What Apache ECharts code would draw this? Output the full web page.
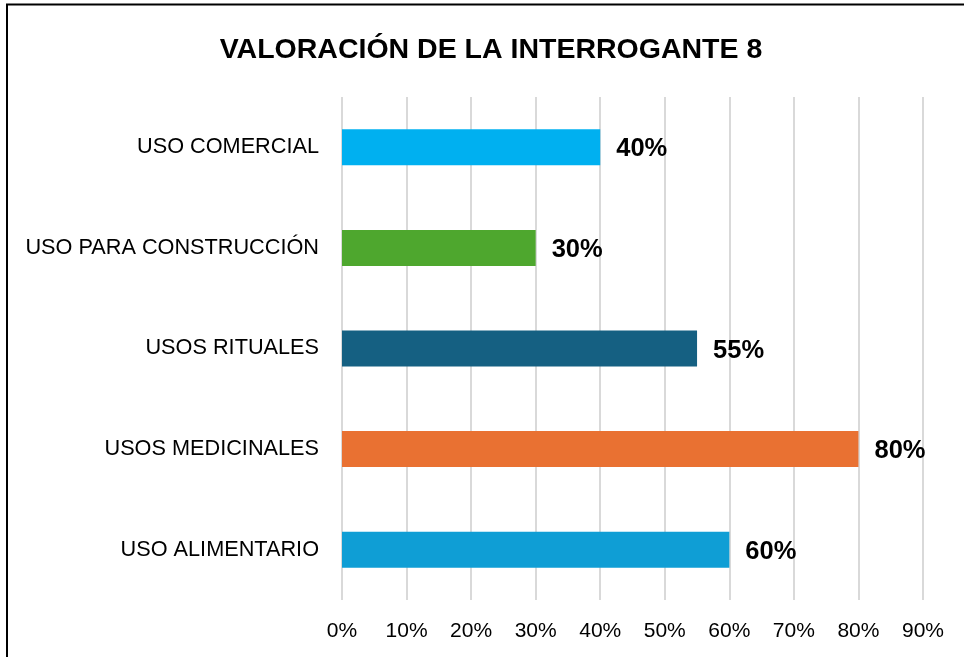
<!DOCTYPE html>
<html>
<head>
<meta charset="utf-8">
<script src="https://cdn.jsdelivr.net/npm/echarts@6/dist/echarts.min.js"></script>
<style>html,body{margin:0;padding:0;background:#fff}#c{width:964px;height:657px}</style>
</head>
<body>
<div id="c"></div>
<script>
const categories = ["USO COMERCIAL", "USO PARA CONSTRUCCIÓN", "USOS RITUALES", "USOS MEDICINALES", "USO ALIMENTARIO"];
const values = [40, 30, 55, 80, 60];
const barColors = ["#00B0F0", "#4EA72E", "#156082", "#E97132", "#0F9ED5"];
const axisMax = 90;
const axisStep = 10;
const titleText = "VALORACIÓN DE LA INTERROGANTE 8";

const chart = echarts.init(document.getElementById('c'), null, {renderer: 'canvas'});
chart.setOption({
  backgroundColor: '#fff',
  animation: false,
  title: {
    text: titleText,
    left: 486, top: 31, textAlign: 'center',
    textStyle: {fontFamily: 'Liberation Sans, Arial', fontWeight: 'bold', fontSize: 28.5, color: '#000'}
  },
  graphic: [
    {type: 'line', shape: {x1: 6, y1: 4.5, x2: 964, y2: 4.5}, style: {stroke: '#000', lineWidth: 2}},
    {type: 'line', shape: {x1: 7, y1: 4, x2: 7, y2: 657}, style: {stroke: '#000', lineWidth: 2}}
  ],
  grid: {left: 342, right: 41, top: 97, bottom: 57, containLabel: false},
  xAxis: {
    type: 'value', min: 0, max: axisMax, interval: axisStep,
    axisLine: {show: false}, axisTick: {show: false},
    splitLine: {lineStyle: {color: '#D9D9D9', width: 2}},
    axisLabel: {formatter: '{value}%', fontFamily: 'Liberation Sans, Arial', fontSize: 21, color: '#000', margin: 21}
  },
  yAxis: {
    type: 'category', data: categories, inverse: true,
    axisLine: {show: false}, axisTick: {show: false},
    axisLabel: {fontFamily: 'Liberation Sans, Arial', fontSize: 21.7, color: '#000', margin: 23, padding: [5, 0, 0, 0]}
  },
  series: [{
    type: 'bar',
    data: values.map((v, i) => ({value: v, itemStyle: {color: barColors[i]}})),
    barWidth: 36,
    label: {show: true, position: 'right', distance: 16, offset: [0, 2], formatter: '{c}%', fontFamily: 'Liberation Sans, Arial', fontWeight: 'bold', fontSize: 25.5, color: '#000'}
  }]
});
</script>
</body>
</html>
